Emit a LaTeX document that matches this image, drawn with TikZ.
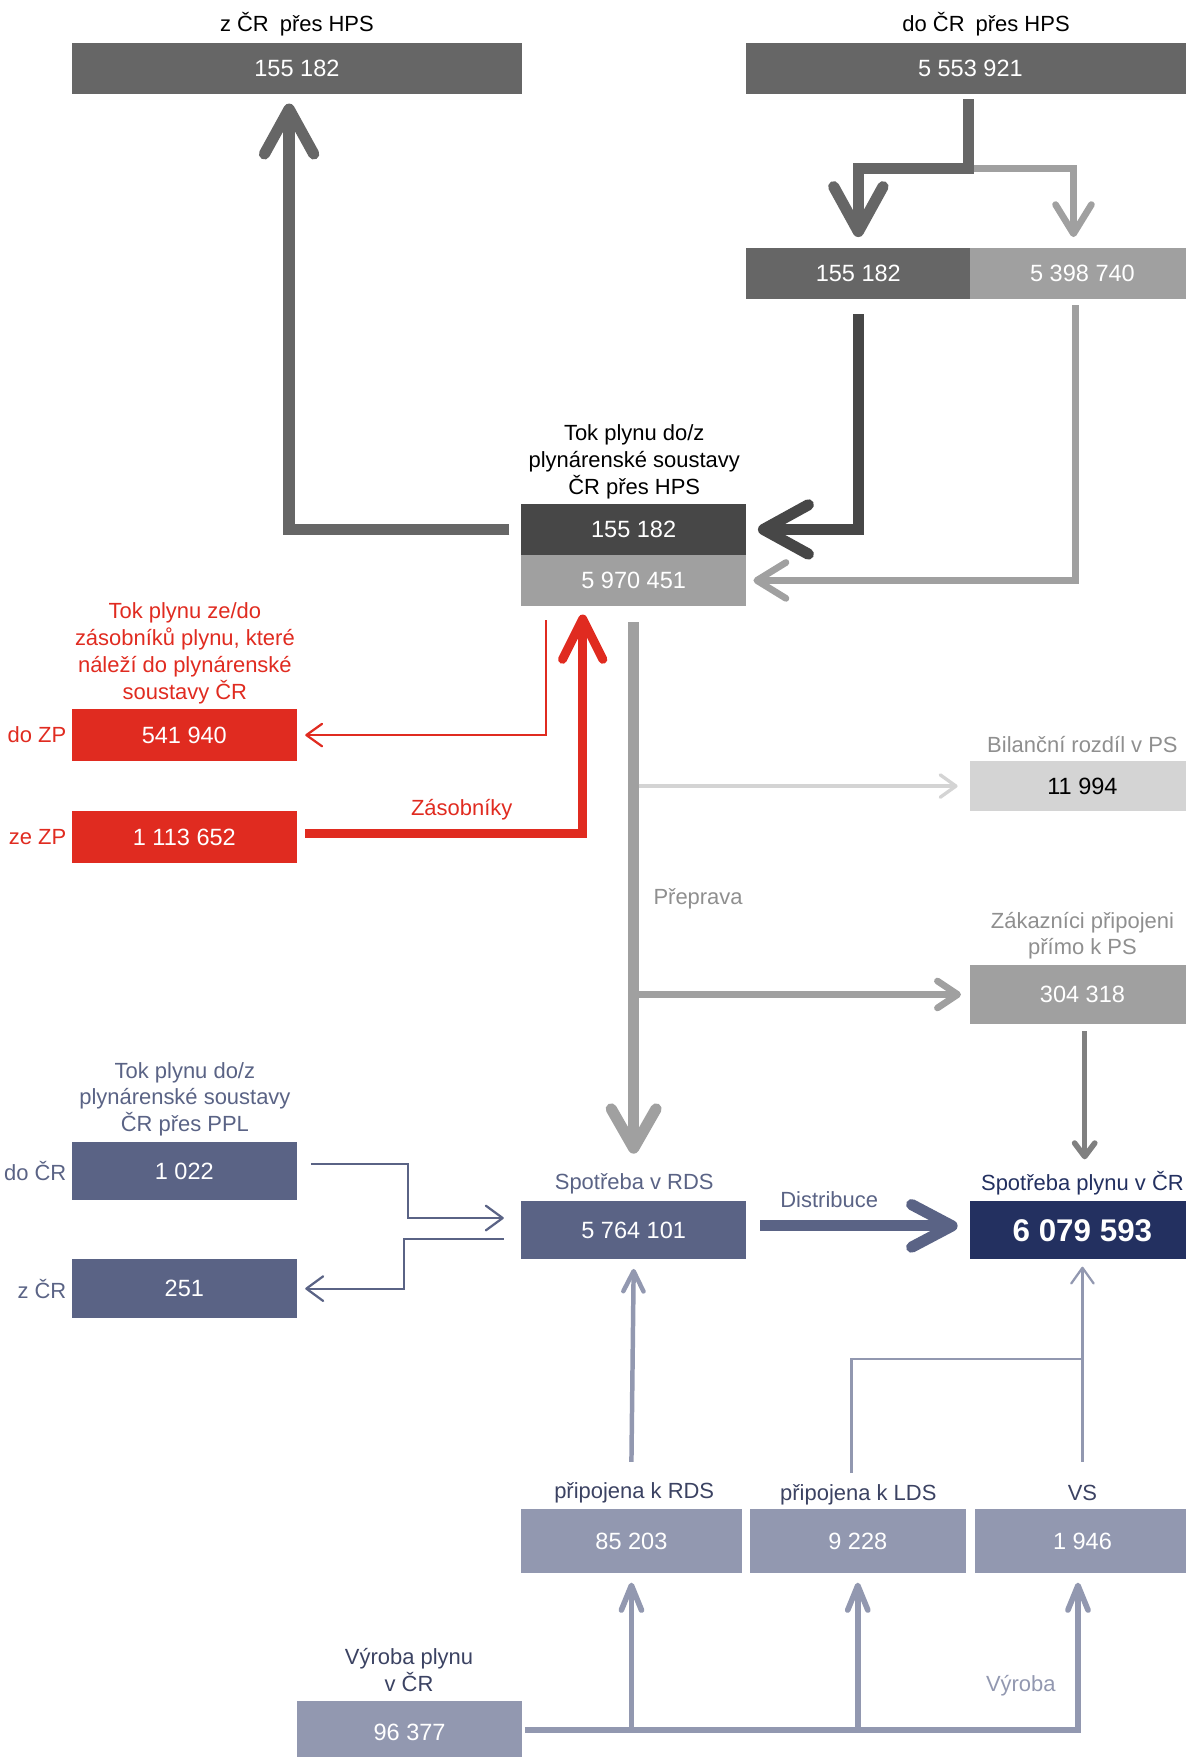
\documentclass[tikz,border=0pt]{standalone}
\usepackage{fontspec}
\setmainfont{Liberation Sans}
\usetikzlibrary{arrows.meta}

\definecolor{hpsgray}{HTML}{666666}
\definecolor{hpsdark}{HTML}{474747}
\definecolor{hpslight}{HTML}{A0A0A0}
\definecolor{midgray}{HTML}{808080}
\definecolor{bilgray}{HTML}{D4D4D4}
\definecolor{txtgray}{HTML}{8F8F8F}
\definecolor{zpred}{HTML}{E02B20}
\definecolor{pplblue}{HTML}{5A6385}
\definecolor{czblue}{HTML}{233060}
\definecolor{vyrblue}{HTML}{9298B0}
\definecolor{vyrtext}{HTML}{3B4262}

\begin{document}
\begin{tikzpicture}[x=0.5pt,y=-0.5pt,
  box/.style 2 args={minimum width=#1pt,minimum height=#2pt,inner sep=0pt,text=white,
    font=\fontsize{10.5}{12.6}\selectfont},
  lbl/.style={align=center,inner sep=0pt,font=\fontsize{9.8}{12}\selectfont},
  barb/.style 2 args={-{Straight Barb[length=#1pt,width=#2pt,round]}}]
\useasboundingbox (0,0) rectangle (1058,1568);

% HPS
\node[lbl] (lzHPS) at (265,22) {z ČR\enspace přes HPS};
\node[box={201}{23},fill=hpsgray] (zHPS) at (265,61) {155 182};
\node[lbl] (ldoHPS) at (880,22) {do ČR\enspace přes HPS};
\node[box={200}{23},fill=hpsgray] (doHPS) at (866,61) {5 553 921};
\node[box={100}{23},fill=hpsgray] (doHPSa) at (766,244) {155 182};
\node[box={100}{23},fill=hpslight] (doHPSb) at (966,244) {5 398 740};
\node[lbl] (ltok) at (566,412) {Tok plynu do/z\\plynárenské soustavy\\ČR přes HPS};
\node[box={100.5}{22.5},fill=hpsdark] (tokA) at (565.5,472.5) {155 182};
\node[box={100.5}{23},fill=hpslight] (tokB) at (565.5,518) {5 970 451};

% zasobniky
\node[lbl,text=zpred] (lzp) at (165,583) {Tok plynu ze/do\\zásobníků plynu, které\\náleží do plynárenské\\soustavy ČR};
\node[box={100.5}{23},fill=zpred] (doZP) at (164.5,656) {541 940};
\node[lbl,text=zpred,anchor=east] (ldoZP) at ([xshift=-2pt]doZP.west) {do ZP};
\node[box={100.5}{23},fill=zpred] (zeZP) at (164.5,747) {1 113 652};
\node[lbl,text=zpred,anchor=east] (lzeZP) at ([xshift=-2pt]zeZP.west) {ze ZP};
\node[lbl,text=zpred] (lzas) at (412,723) {Zásobníky};

% preprava
\node[lbl,text=txtgray] (lbil) at (966,664) {Bilanční rozdíl v PS};
\node[box={100}{22.5},fill=bilgray,text=black] (bil) at (966,701.5) {11 994};
\node[lbl,text=txtgray] (lpre) at (623,802) {Přeprava};
\node[lbl,text=txtgray] (lzak) at (966,835) {Zákazníci připojeni\\přímo k PS};
\node[box={100}{26.5},fill=hpslight] (zak) at (966,887.5) {304 318};

% PPL a spotreba
\node[lbl,text=pplblue] (lppl) at (165,981) {Tok plynu do/z\\plynárenské soustavy\\ČR přes PPL};
\node[box={100.5}{26},fill=pplblue] (doPPL) at (164.5,1045) {1 022};
\node[lbl,text=pplblue,anchor=east] (ldoPPL) at ([xshift=-2pt]doPPL.west) {do ČR};
\node[box={100.5}{26},fill=pplblue] (zPPL) at (164.5,1150) {251};
\node[lbl,text=pplblue,anchor=east] (lzPPL) at ([xshift=-2pt]zPPL.west) {z ČR};
\node[lbl,text=pplblue] (lrds) at (566,1056) {Spotřeba v RDS};
\node[box={100.5}{26},fill=pplblue] (rds) at (565.5,1098) {5 764 101};
\node[lbl,text=pplblue] (ldis) at (740,1071) {Distribuce};
\node[lbl,text=czblue] (lcr) at (966,1056) {Spotřeba plynu v ČR};
\node[box={100}{26},fill=czblue,font=\bfseries\fontsize{14}{16}\selectfont] (cr) at (966,1098) {6 079 593};

% vyroba
\node[lbl,text=vyrtext] (lpRDS) at (566,1332) {připojena k RDS};
\node[box={98.5}{28.5},fill=vyrblue] (pRDS) at (563.5,1375.5) {85 203};
\node[lbl,text=vyrtext] (lpLDS) at (766,1334) {připojena k LDS};
\node[box={96.5}{28.5},fill=vyrblue] (pLDS) at (765.5,1375.5) {9 228};
\node[lbl,text=vyrtext] (lvs) at (966,1332) {VS};
\node[box={96}{28.5},fill=vyrblue] (vs) at (966,1375.5) {1 946};
\node[lbl,text=vyrtext] (lvyr) at (365,1490) {Výroba plynu\\v ČR};
\node[box={100.5}{28},fill=vyrblue] (vyr) at (365.5,1546) {96 377};
\node[lbl,text=vyrblue] (lvyrb) at (911,1504) {Výroba};

% toky HPS
\coordinate (split) at ([xshift=-1pt,yshift=-33pt]doHPS.south);
\draw[hpslight,line width=3pt,barb={13}{16}] (split) -| ([xshift=-4pt,yshift=4.5pt]doHPSb.north);
\draw[hpsgray,line width=5pt,barb={20}{22}] ([xshift=-1pt,yshift=-2pt]doHPS.south) -- (split) -| ([yshift=4.5pt]doHPSa.north);
\draw[hpsdark,line width=5pt,barb={20}{22}] ([yshift=-6.5pt]doHPSa.south) |- ([xshift=5pt]tokA.east);
\draw[hpslight,line width=3pt,barb={13}{16}] ([xshift=-3pt,yshift=-2.5pt]doHPSb.south) |- ([xshift=3pt]tokB.east);
\draw[hpsgray,line width=5pt,barb={20}{22}] ([xshift=-5pt]tokA.west) -| ([xshift=-3.5pt,yshift=-4pt]zHPS.south);

% zasobniky
\draw[zpred,line width=1pt,barb={7}{10}] ([xshift=-39pt,yshift=-6pt]tokB.south) |- ([xshift=3.5pt]doZP.east);
\draw[zpred,line width=4pt,barb={18}{18}] ([xshift=3.5pt,yshift=1.5pt]zeZP.east) -| ([xshift=-22.75pt,yshift=-3.5pt]tokB.south);

% preprava
\coordinate (tbil) at (tokB.south |- bil.west);
\coordinate (tzak) at (tokB.south |- zak.west);
\draw[hpslight,line width=5pt,barb={17.5}{20}] ([yshift=-7pt]tokB.south) -- ([yshift=21pt]rds.north);
\draw[bilgray,line width=1.5pt,barb={7}{10}] ([xshift=2.25pt]tbil) -- ([xshift=-5.5pt]bil.west);
\draw[hpslight,line width=3pt,barb={9}{12}] (tzak) -- ([xshift=-4pt]zak.west);
\draw[midgray,line width=2.5pt,barb={6}{9}] ([xshift=1pt,yshift=-3pt]zak.south) -- ([xshift=1pt,yshift=18.5pt]cr.north);

% PPL a distribuce
\draw[pplblue,line width=1pt,barb={7.5}{11}] ([xshift=6pt,yshift=3pt]doPPL.east) -- ++(87,0) |- ([xshift=-7.5pt,yshift=5.5pt]rds.west);
\draw[pplblue,line width=1pt,barb={7.5}{11}] ([xshift=-7.5pt,yshift=-4pt]rds.west) -- ++(-89,0) |- ([xshift=3.5pt]zPPL.east);
\draw[pplblue,line width=5pt,barb={18}{19}] ([xshift=6pt,yshift=2pt]rds.east) -- ([xshift=-5.5pt,yshift=2pt]cr.west);

% spotreba z vyroby
\coordinate (jvs) at ([yshift=67pt]vs.north);
\draw[vyrblue,line width=2pt,barb={9}{9}] ([yshift=21pt]pRDS.north) -- ([yshift=-4pt]rds.south);
\draw[vyrblue,line width=1pt] ([xshift=-2.75pt,yshift=16pt]pLDS.north) |- (jvs);
\draw[vyrblue,line width=1pt,barb={7}{10}] ([yshift=21pt]vs.north) -- ([yshift=-3pt]cr.south);
\draw[vyrblue,line width=2.5pt,barb={11}{9}] ([xshift=1pt,yshift=1pt]vyr.east) -| ([xshift=-2pt,yshift=-4pt]vs.south);
\foreach \n in {pRDS,pLDS}
  \draw[vyrblue,line width=2.5pt,barb={11}{9}] (\n.south |- 0,1545) -- ([yshift=-4pt]\n.south);
\end{tikzpicture}
\end{document}
